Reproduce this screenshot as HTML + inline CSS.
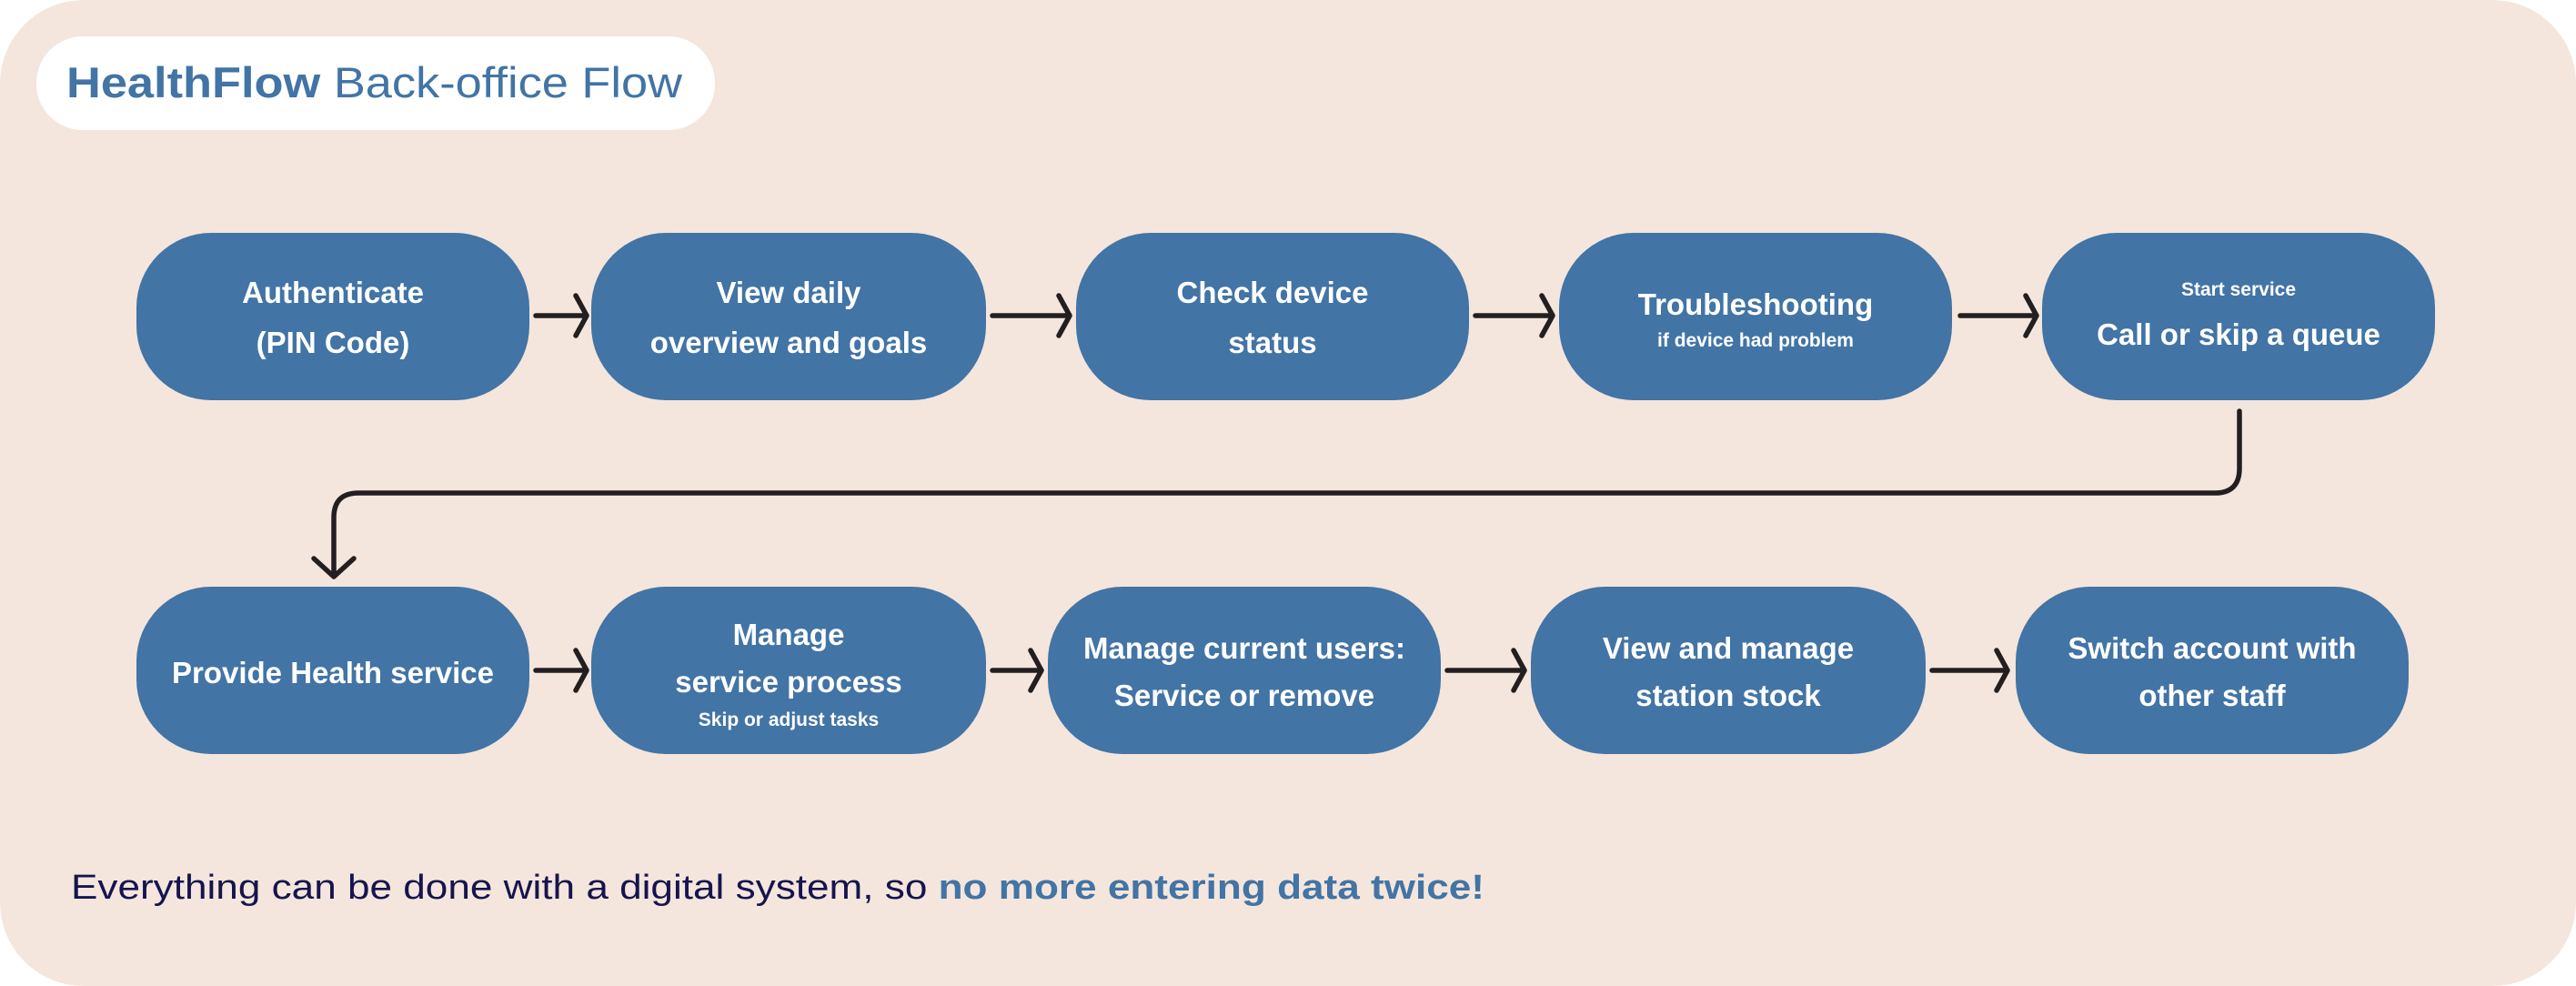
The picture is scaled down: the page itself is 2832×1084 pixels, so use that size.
<!DOCTYPE html>
<html><head><meta charset="utf-8"><style>
html,body{margin:0;padding:0;background:#fff;}
svg{display:block;}
text{font-family:"Liberation Sans",sans-serif;}
</style></head><body>
<svg width="2832" height="1084" viewBox="0 0 2832 1084" xmlns="http://www.w3.org/2000/svg">
<rect x="0" y="0" width="2832" height="1084" rx="92" fill="#F4E6DC"/>
<rect x="40" y="40" width="746" height="103" rx="51" fill="#fff"/>
<text x="73" y="107" font-size="47" fill="#4274A5" textLength="677" lengthAdjust="spacingAndGlyphs"><tspan font-weight="bold">HealthFlow</tspan><tspan> Back-office Flow</tspan></text>
<g fill="#4274A5">
<rect x="150" y="256" width="432" height="184" rx="82"/>
<rect x="650" y="256" width="434" height="184" rx="82"/>
<rect x="1183" y="256" width="432" height="184" rx="82"/>
<rect x="1714" y="256" width="432" height="184" rx="82"/>
<rect x="2245" y="256" width="432" height="184" rx="82"/>
<rect x="150" y="645" width="432" height="184" rx="82"/>
<rect x="650" y="645" width="434" height="184" rx="82"/>
<rect x="1152" y="645" width="432" height="184" rx="82"/>
<rect x="1683" y="645" width="434" height="184" rx="82"/>
<rect x="2216" y="645" width="432" height="184" rx="82"/>
</g>
<g fill="#fff" font-weight="bold" text-anchor="middle" font-size="33">
<text x="366" y="333">Authenticate</text>
<text x="366" y="388">(PIN Code)</text>
<text x="867" y="333">View daily</text>
<text x="867" y="388">overview and goals</text>
<text x="1399" y="333">Check device</text>
<text x="1399" y="388">status</text>
<text x="1930" y="346">Troubleshooting</text>
<text x="1930" y="381" font-size="21">if device had problem</text>
<text x="2461" y="325" font-size="21">Start service</text>
<text x="2461" y="379">Call or skip a queue</text>
<text x="366" y="751">Provide Health service</text>
<text x="867" y="709">Manage</text>
<text x="867" y="761">service process</text>
<text x="867" y="798" font-size="21">Skip or adjust tasks</text>
<text x="1368" y="724">Manage current users:</text>
<text x="1368" y="776">Service or remove</text>
<text x="1900" y="724">View and manage</text>
<text x="1900" y="776">station stock</text>
<text x="2432" y="724">Switch account with</text>
<text x="2432" y="776">other staff</text>
</g>
<g stroke="#231F20" stroke-width="5.5" fill="none" stroke-linecap="round" stroke-linejoin="round">
<path d="M589 347H645M633 325L645 347L633 369"/>
<path d="M1091 347H1176M1164 325L1176 347L1164 369"/>
<path d="M1622 347H1707M1695 325L1707 347L1695 369"/>
<path d="M2155 347H2239M2227 325L2239 347L2227 369"/>
<path d="M589 737H645M633 715L645 737L633 759"/>
<path d="M1091 737H1145M1133 715L1145 737L1133 759"/>
<path d="M1591 737H1676M1664 715L1676 737L1664 759"/>
<path d="M2124 737H2207M2195 715L2207 737L2195 759"/>
<path d="M2462 452V515Q2462 542 2435 542H394Q367 542 367 569V634M345 614L367 634L389 614"/>
</g>
<text x="78" y="988" font-size="38" fill="#16144F" textLength="1554" lengthAdjust="spacingAndGlyphs">Everything can be done with a digital system, so <tspan font-weight="bold" fill="#4274A5">no more entering data twice!</tspan></text>
</svg>
</body></html>
